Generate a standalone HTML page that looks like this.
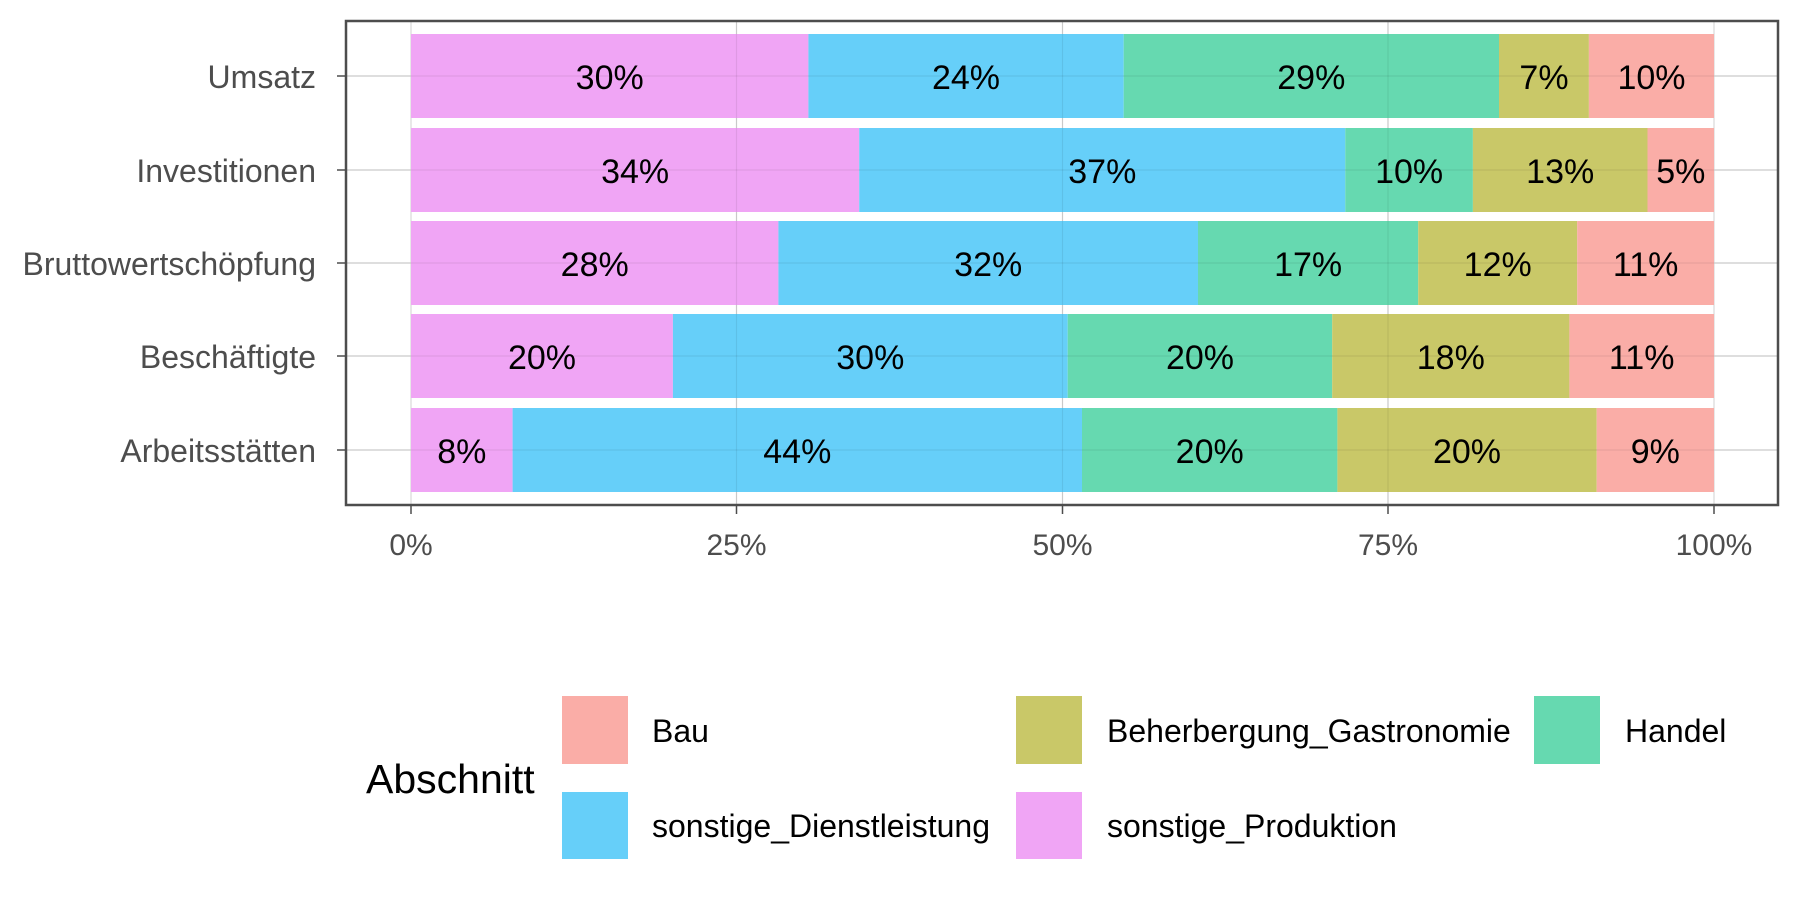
<!DOCTYPE html>
<html><head><meta charset="utf-8"><style>
html,body{margin:0;padding:0;background:#fff}
svg text{font-family:"Liberation Sans",sans-serif}
</style></head><body>
<svg width="1800" height="900" viewBox="0 0 1800 900" xmlns="http://www.w3.org/2000/svg">
<rect width="1800" height="900" fill="#fff"/>
<g stroke="#d9d9d9" stroke-width="1.2">
<line x1="346" x2="1778" y1="76" y2="76"/><line x1="346" x2="1778" y1="170" y2="170"/><line x1="346" x2="1778" y1="263" y2="263"/><line x1="346" x2="1778" y1="356" y2="356"/><line x1="346" x2="1778" y1="450" y2="450"/>
<line x1="411" x2="411" y1="21" y2="505"/><line x1="736.5" x2="736.5" y1="21" y2="505"/><line x1="1062.5" x2="1062.5" y1="21" y2="505"/><line x1="1388" x2="1388" y1="21" y2="505"/><line x1="1714" x2="1714" y1="21" y2="505"/>
</g>
<g>
<rect x="411" y="34" width="397.4" height="84" fill="#F0A5F5"/>
<rect x="808.4" y="34" width="315.3" height="84" fill="#66CFF9"/>
<rect x="1123.7" y="34" width="375.3" height="84" fill="#66D9B0"/>
<rect x="1499" y="34" width="89.9" height="84" fill="#C9C868"/>
<rect x="1588.9" y="34" width="125.1" height="84" fill="#FAADA7"/>
<rect x="411" y="128" width="448.2" height="84" fill="#F0A5F5"/>
<rect x="859.2" y="128" width="486.1" height="84" fill="#66CFF9"/>
<rect x="1345.3" y="128" width="127.6" height="84" fill="#66D9B0"/>
<rect x="1472.9" y="128" width="174.6" height="84" fill="#C9C868"/>
<rect x="1647.5" y="128" width="66.5" height="84" fill="#FAADA7"/>
<rect x="411" y="221" width="367.4" height="84" fill="#F0A5F5"/>
<rect x="778.4" y="221" width="419.6" height="84" fill="#66CFF9"/>
<rect x="1198" y="221" width="220.2" height="84" fill="#66D9B0"/>
<rect x="1418.2" y="221" width="159" height="84" fill="#C9C868"/>
<rect x="1577.2" y="221" width="136.8" height="84" fill="#FAADA7"/>
<rect x="411" y="314" width="261.9" height="84" fill="#F0A5F5"/>
<rect x="672.9" y="314" width="394.8" height="84" fill="#66CFF9"/>
<rect x="1067.7" y="314" width="264.5" height="84" fill="#66D9B0"/>
<rect x="1332.2" y="314" width="237.2" height="84" fill="#C9C868"/>
<rect x="1569.4" y="314" width="144.6" height="84" fill="#FAADA7"/>
<rect x="411" y="408" width="101.6" height="84" fill="#F0A5F5"/>
<rect x="512.6" y="408" width="569.4" height="84" fill="#66CFF9"/>
<rect x="1082" y="408" width="255.4" height="84" fill="#66D9B0"/>
<rect x="1337.4" y="408" width="259.3" height="84" fill="#C9C868"/>
<rect x="1596.7" y="408" width="117.3" height="84" fill="#FAADA7"/>
</g>
<g stroke="#000" stroke-opacity="0.07" stroke-width="1.2">
<line x1="346" x2="1778" y1="76" y2="76"/><line x1="346" x2="1778" y1="170" y2="170"/><line x1="346" x2="1778" y1="263" y2="263"/><line x1="346" x2="1778" y1="356" y2="356"/><line x1="346" x2="1778" y1="450" y2="450"/>
<line x1="736.5" x2="736.5" y1="21" y2="505"/><line x1="1062.5" x2="1062.5" y1="21" y2="505"/><line x1="1388" x2="1388" y1="21" y2="505"/>
</g>
<g font-size="34" fill="#000" text-anchor="middle">
<text x="609.7" y="89">30%</text><text x="966" y="89">24%</text><text x="1311.3" y="89">29%</text><text x="1544" y="89">7%</text><text x="1651.5" y="89">10%</text>
<text x="635.1" y="183">34%</text><text x="1102.3" y="183">37%</text><text x="1409.1" y="183">10%</text><text x="1560.2" y="183">13%</text><text x="1680.8" y="183">5%</text>
<text x="594.7" y="276">28%</text><text x="988.2" y="276">32%</text><text x="1308.1" y="276">17%</text><text x="1497.7" y="276">12%</text><text x="1645.6" y="276">11%</text>
<text x="542" y="369">20%</text><text x="870.3" y="369">30%</text><text x="1200" y="369">20%</text><text x="1450.8" y="369">18%</text><text x="1641.7" y="369">11%</text>
<text x="461.8" y="463">8%</text><text x="797.3" y="463">44%</text><text x="1209.7" y="463">20%</text><text x="1467" y="463">20%</text><text x="1655.3" y="463">9%</text>
</g>
<rect x="346" y="21" width="1432" height="484" fill="none" stroke="#4d4d4d" stroke-width="2.5"/>
<g stroke="#4d4d4d" stroke-width="1.5">
<line x1="337" x2="346" y1="76" y2="76"/><line x1="337" x2="346" y1="170" y2="170"/><line x1="337" x2="346" y1="263" y2="263"/><line x1="337" x2="346" y1="356" y2="356"/><line x1="337" x2="346" y1="450" y2="450"/>
<line x1="411" x2="411" y1="505" y2="514"/><line x1="736.5" x2="736.5" y1="505" y2="514"/><line x1="1062.5" x2="1062.5" y1="505" y2="514"/><line x1="1388" x2="1388" y1="505" y2="514"/><line x1="1714" x2="1714" y1="505" y2="514"/>
</g>
<g font-size="32" fill="#4d4d4d" text-anchor="end">
<text x="316" y="88">Umsatz</text><text x="316" y="182">Investitionen</text><text x="316" y="275">Bruttowertschöpfung</text><text x="316" y="368">Beschäftigte</text><text x="316" y="462">Arbeitsstätten</text>
</g>
<g font-size="30" fill="#4d4d4d" text-anchor="middle">
<text x="411" y="555">0%</text><text x="736.5" y="555">25%</text><text x="1062.5" y="555">50%</text><text x="1388" y="555">75%</text><text x="1714" y="555">100%</text>
</g>
<text x="366" y="793" font-size="41" fill="#000">Abschnitt</text>
<rect x="562" y="696" width="66" height="68" fill="#FAADA7"/>
<rect x="1016" y="696" width="66" height="68" fill="#C9C868"/>
<rect x="1534" y="696" width="66" height="68" fill="#66D9B0"/>
<rect x="562" y="792" width="66" height="67" fill="#66CFF9"/>
<rect x="1016" y="792" width="66" height="67" fill="#F0A5F5"/>
<g font-size="32" fill="#000">
<text x="652" y="742">Bau</text><text x="1107" y="742">Beherbergung_Gastronomie</text><text x="1625" y="742">Handel</text>
<text x="652" y="837">sonstige_Dienstleistung</text><text x="1107" y="837">sonstige_Produktion</text>
</g>
</svg>
</body></html>
